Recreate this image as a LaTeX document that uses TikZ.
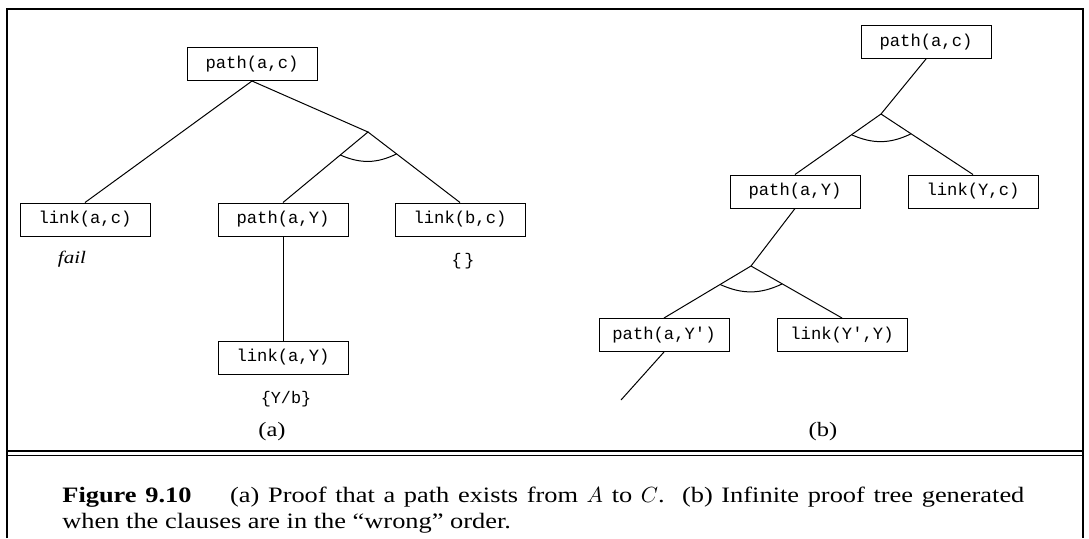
\documentclass[tikz,border=0pt]{standalone}
\usepackage{fontspec}
\setmainfont{Liberation Serif}[FakeStretch=1.2]
\setmonofont{Liberation Mono}
\usetikzlibrary{positioning,calc}
\tikzset{
  goalbox/.style={draw, line width=0.5pt, inner sep=0pt,
    minimum width=65pt, minimum height=16.5pt,
    font=\fontsize{8.6}{10}\ttfamily},
  branch/.style={line width=0.5pt},
  andarc/.style={line width=0.5pt},
  bindnote/.style={font=\fontsize{8.4}{10}\ttfamily},
  failnote/.style={font=\fontsize{8.8}{10}\itshape},
  sublabel/.style={font=\fontsize{10.2}{12}\selectfont},
  framerule/.style={line width=1pt},
}

\begin{document}
\begin{tikzpicture}[x=0.5pt, y=-0.5pt]
  \useasboundingbox (0,0) rectangle (1089,538);

  % Frame and caption rule
  \draw[framerule] (7,538) |- (1083,9) -- (1083,538);
  \draw[line width=0.9pt] (7,451) -- (1083,451);
  \draw[line width=0.9pt] (7,455.5) -- (1083,455.5);

  % (a) Proof tree
  \node[goalbox] (rootA) at (252,64) {path(a,c)};
  \node[goalbox, below=60.75pt of rootA, xshift=15.5pt] (pathA) {path(a,Y)};
  \node[goalbox, left=33.5pt of pathA] (linkAC) {link(a,c)};
  \node[goalbox, right=23pt of pathA] (linkBC) {link(b,c)};
  \node[goalbox, below=52pt of pathA] (linkAY) {link(a,Y)};
  \coordinate (andA) at (368,132);

  \node[failnote, below=4pt of linkAC, xshift=-6.5pt] (failA) {fail};
  \node[bindnote, below=5pt of linkBC, xshift=1.5pt] (bindBC) {\{\,\}};
  \node[bindnote, below=5pt of linkAY, xshift=1.5pt] (bindAY) {\{Y/b\}};

  \draw[branch] (rootA.south) -- (linkAC.north);
  \draw[branch] (rootA.south) -- (andA) -- (pathA.north);
  \draw[branch] (andA) -- (linkBC.north);
  \draw[branch] (pathA.south) -- (linkAY.north);
  \draw[andarc] ($(andA)!18pt!(pathA.north)$) to[bend right=25]
    ($(andA)!18pt!(linkBC.north)$);

  \node[sublabel] (labA) at (272,432) {(a)};

  % (b) Infinite proof tree
  \node[goalbox] (rootB) at (926,42) {path(a,c)};
  \node[goalbox, below=57.75pt of rootB, xshift=-65.5pt] (pathB) {path(a,Y)};
  \node[goalbox, right=23.5pt of pathB] (linkYC) {link(Y,c)};
  \node[goalbox, below=54.75pt of pathB, xshift=-65.5pt] (pathB2) {path(a,Y')};
  \node[goalbox, right=23.5pt of pathB2] (linkYY) {link(Y',Y)};
  \coordinate (andB) at (881,114);
  \coordinate (andB2) at (751,266);
  \coordinate (tailB) at (621,400);

  \draw[branch] (rootB.south) -- (andB) -- (pathB.north);
  \draw[branch] (andB) -- (linkYC.north);
  \draw[branch] (pathB.south) -- (andB2) -- (pathB2.north);
  \draw[branch] (andB2) -- (linkYY.north);
  \draw[branch] (pathB2.south) -- (tailB);
  \draw[andarc] ($(andB)!18pt!(pathB.north)$) to[bend right=25]
    ($(andB)!18pt!(linkYC.north)$);
  \draw[andarc] ($(andB2)!18pt!(pathB2.north)$) to[bend right=25]
    ($(andB2)!18pt!(linkYY.north)$);

  \node[sublabel] (labB) at (823,432) {(b)};

  % Caption
  \node[anchor=north west, inner sep=0pt, text width=481pt, align=justify,
        font=\fontsize{11}{13}\selectfont] (cap) at (62,487)
    {\textbf{Figure 9.10}\hspace{15pt} (a) Proof that a path exists from $A$ to $C$.\ \ (b) Infinite proof tree generated\linebreak
     when the clauses are in the ``wrong'' order.};
\end{tikzpicture}
\end{document}
